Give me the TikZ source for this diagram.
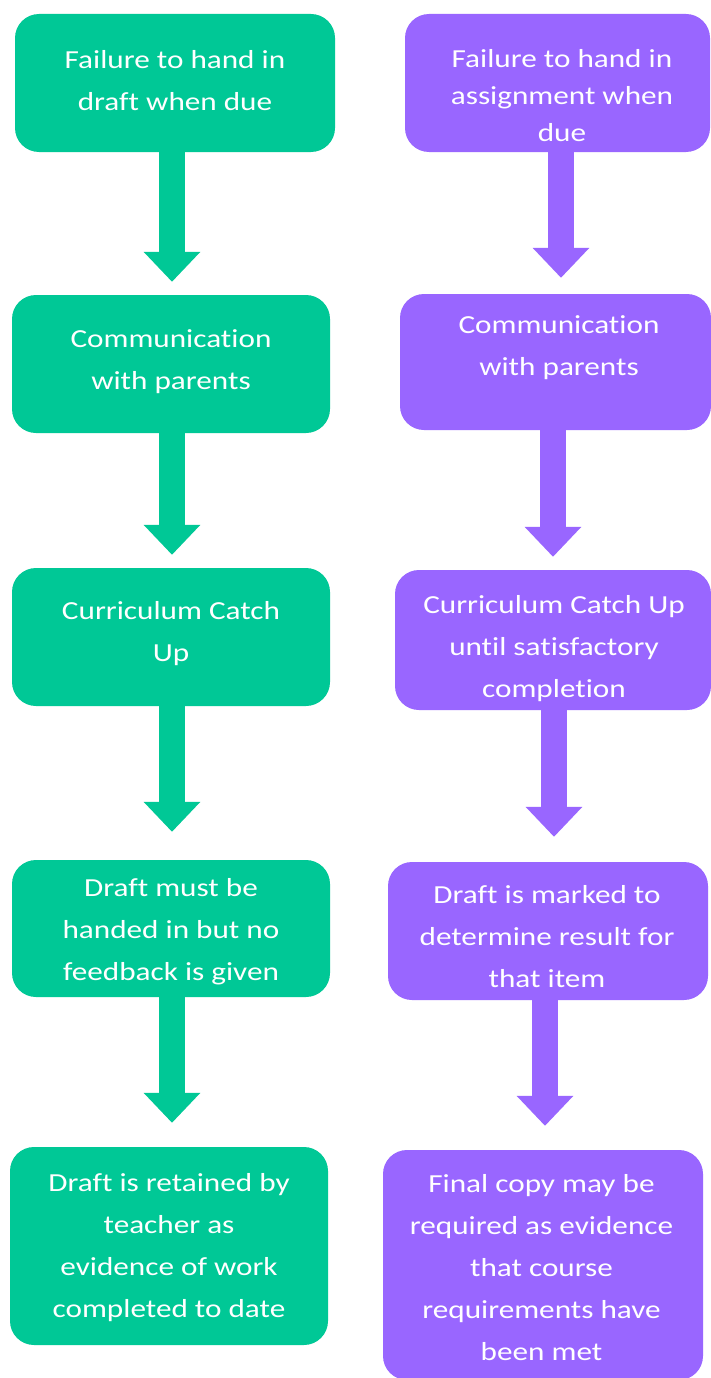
\documentclass[tikz,border=0pt]{standalone}
\usepackage{fontspec}
\setmainfont{Carlito}[FakeStretch=1.2, Ligatures=NoCommon]
\usetikzlibrary{arrows.meta}
\definecolor{flowgreen}{RGB}{0,200,150}
\definecolor{flowpurple}{RGB}{153,102,255}
\begin{document}
\begin{tikzpicture}[x=1pt,y=1pt,
  box/.style={rectangle, rounded corners=24pt, inner sep=0pt, draw=none},
  gbox/.style={box, fill=flowgreen},
  pbox/.style={box, fill=flowpurple},
  boxtext/.style={text=white, align=center, inner sep=0pt,
    font=\fontsize{26pt}{42pt}\selectfont},
  flow/.style={line width=26pt, -{Triangle[width=55pt,length=30pt]}},
  gflow/.style={flow, draw=flowgreen},
  pflow/.style={flow, draw=flowpurple}]
\fill[white] (0,0) rectangle (711,-1378);
\useasboundingbox (0,0) rectangle (711,-1378);
\clip (0,0) rectangle (711,-1378);

% left column: draft
\node[gbox, minimum width=320pt, minimum height=138pt] (g1) at (175,-83) {};
\node[gbox, minimum width=318pt, minimum height=138pt] (g2) at (171,-364) {};
\node[gbox, minimum width=318pt, minimum height=138pt] (g3) at (171,-637) {};
\node[gbox, minimum width=318pt, minimum height=137pt] (g4) at (171,-928.5) {};
\node[gbox, minimum width=318pt, minimum height=198pt] (g5) at (169,-1246) {};

\node[boxtext] (g1t) at (175,-81) {Failure to hand in\\draft when due};
\node[boxtext] (g2t) at (171,-362) {Communication\\with parents};
\node[boxtext] (g3t) at (171,-634) {Curriculum Catch\\Up};
\node[boxtext] (g4t) at (171,-932) {Draft must be\\handed in but no\\feedback is given};
\node[boxtext] (g5t) at (169,-1248) {Draft is retained by\\teacher as\\evidence of work\\completed to date};

% right column: assignment
\node[pbox, minimum width=305pt, minimum height=138pt] (p1) at (557.5,-83) {};
\node[pbox, minimum width=311pt, minimum height=136pt] (p2) at (555.5,-362) {};
\node[pbox, minimum width=316pt, minimum height=140pt] (p3) at (553,-640) {};
\node[pbox, minimum width=320pt, minimum height=138pt] (p4) at (548,-931) {};
\node[pbox, minimum width=320pt, minimum height=230pt] (p5) at (543,-1265) {};

\node[boxtext, font=\fontsize{26pt}{37pt}\selectfont] (p1t) at (562,-96) {Failure to hand in\\assignment when\\due};
\node[boxtext] (p2t) at (559,-348) {Communication\\with parents};
\node[boxtext] (p3t) at (554,-649) {Curriculum Catch Up\\until satisfactory\\completion};
\node[boxtext] (p4t) at (547,-937) {Draft is marked to\\determine result for\\that item};
\node[boxtext] (p5t) at (541.5,-1268) {Final copy may be\\required as evidence\\that course\\requirements have\\been met};

% connectors
\draw[gflow, shorten >=13pt] ([xshift=-3pt]g1.south) -- ([xshift=-3pt]g1.south |- g2.north);
\draw[gflow, shorten >=13pt] ([xshift=1pt]g2.south) -- ([xshift=1pt]g2.south |- g3.north);
\draw[gflow, shorten >=28pt] ([xshift=1pt]g3.south) -- ([xshift=1pt]g3.south |- g4.north);
\draw[gflow, shorten >=24pt] ([xshift=1pt]g4.south) -- ([xshift=1pt]g4.south |- g5.north);

\draw[pflow, shorten >=16pt] ([xshift=3.5pt]p1.south) -- ([xshift=3.5pt]p1.south |- p2.north);
\draw[pflow, shorten >=13pt] ([xshift=-2.5pt]p2.south) -- ([xshift=-2.5pt]p2.south |- p3.north);
\draw[pflow, shorten >=25pt] ([xshift=1pt]p3.south) -- ([xshift=1pt]p3.south |- p4.north);
\draw[pflow, shorten >=24pt] ([xshift=-3pt]p4.south) -- ([xshift=-3pt]p4.south |- p5.north);
\end{tikzpicture}
\end{document}
